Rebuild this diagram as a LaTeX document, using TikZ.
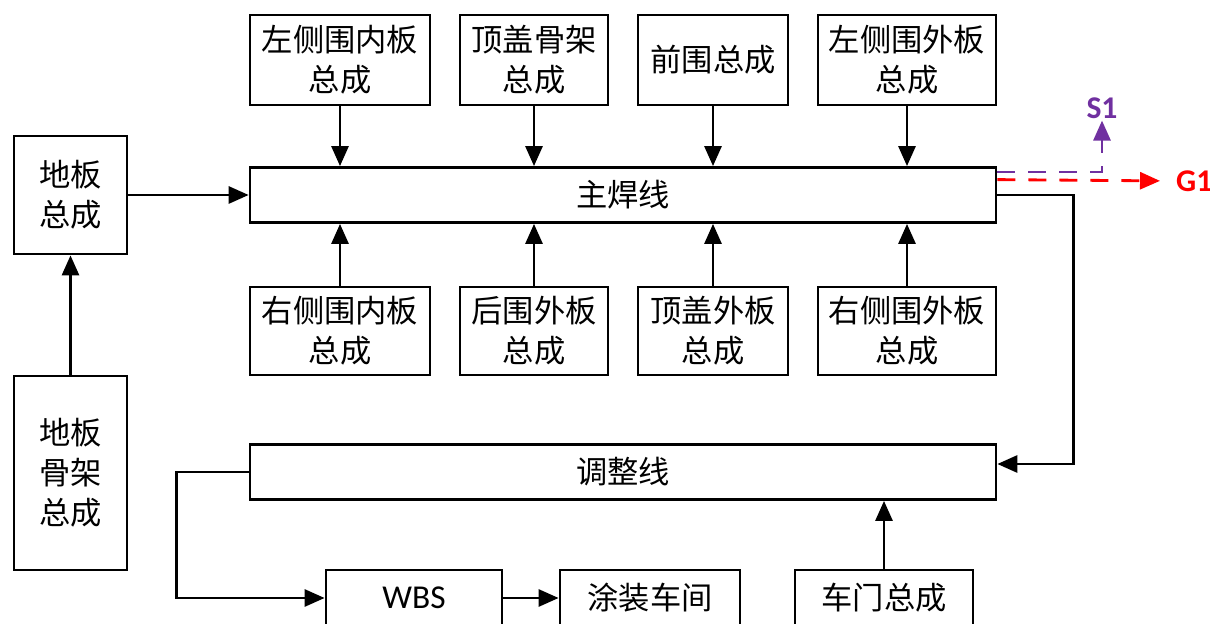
\documentclass[tikz,border=0pt]{standalone}
\usepackage{fontspec}
\setmainfont{Noto Sans CJK SC}
\newfontfamily\lat{Carlito}
\usetikzlibrary{arrows.meta,positioning}

\tikzset{
  blk/.style={draw, line width=1.6pt, align=center, inner sep=0pt,
    font=\fontsize{17.8}{22.8}\selectfont},
  arr/.style={line width=1.6pt, -{Triangle[length=0.4cm,width=0.34cm]}},
  sig/.style={line width=1.6pt, dash pattern=on 0.36cm off 0.26cm,
    -{Triangle[length=0.4cm,width=0.34cm]}},
  tag/.style={font=\lat\bfseries\fontsize{18}{20}\selectfont, inner sep=1pt},
}
\definecolor{sone}{HTML}{7030A0}
\definecolor{gone}{HTML}{FF0000}

\begin{document}
\begin{tikzpicture}[x=0.02cm, y=-0.02cm]
    \useasboundingbox (0,0) rectangle (1210,624);

    % upper parts
    \node[blk, minimum width=3.6cm, minimum height=1.8cm] (lnb) at (340,60) {左侧围内板\\总成};
    \node[blk, minimum width=2.96cm, minimum height=1.8cm] (tgj) at (534,60) {顶盖骨架\\总成};
    \node[blk, minimum width=3cm, minimum height=1.8cm] (qw) at (713,60) {前围总成};
    \node[blk, minimum width=3.56cm, minimum height=1.8cm] (lwb) at (907,60) {左侧围外板\\总成};

    % main line
    \node[blk, minimum width=14.92cm, minimum height=1.1cm] (zhx) at (623,195) {主焊线};

    % lower parts
    \node[blk, minimum width=3.6cm, minimum height=1.76cm] (rnb) at (340,331) {右侧围内板\\总成};
    \node[blk, minimum width=2.96cm, minimum height=1.76cm] (hw) at (534,331) {后围外板\\总成};
    \node[blk, minimum width=3cm, minimum height=1.76cm] (tgw) at (713,331) {顶盖外板\\总成};
    \node[blk, minimum width=3.56cm, minimum height=1.76cm] (rwb) at (907,331) {右侧围外板\\总成};

    % floor
    \node[blk, minimum width=2.26cm, minimum height=2.36cm] (db) at (70.5,195) {地板\\总成};
    \node[blk, minimum width=2.26cm, minimum height=3.88cm] (dgj) at (70.5,473) {地板\\骨架\\总成};

    % adjust line and downstream
    \node[blk, minimum width=14.92cm, minimum height=1.1cm] (tzx) at (623,472) {调整线};
    \node[blk, minimum width=3.52cm, minimum height=1.12cm] (wbs) at (414,598) {\lat\fontsize{19}{22}\selectfont WBS};
    \node[blk, minimum width=3.6cm, minimum height=1.12cm] (tz) at (650,598) {涂装车间};
    \node[blk, minimum width=3.56cm, minimum height=1.12cm] (cm) at (884,598) {车门总成};

    % signals
    \node[tag, text=sone] (s1) at (1102,108) {S1};
    \node[tag, text=gone, anchor=west] (g1) at (1174,181) {G1};

    \draw[arr] (lnb.south) -- (lnb.south |- zhx.north);
    \draw[arr] (tgj.south) -- (tgj.south |- zhx.north);
    \draw[arr] (qw.south) -- (qw.south |- zhx.north);
    \draw[arr] (lwb.south) -- (lwb.south |- zhx.north);

    \draw[arr] (rnb.north) -- (rnb.north |- zhx.south);
    \draw[arr] (hw.north) -- (hw.north |- zhx.south);
    \draw[arr] (tgw.north) -- (tgw.north |- zhx.south);
    \draw[arr] (rwb.north) -- (rwb.north |- zhx.south);

    \draw[arr] (db.east) -- (zhx.west);
    \draw[arr] (dgj.north) -- (db.south);

    \draw[arr] (zhx.east) -- ++(76,0) |- ([yshift=0.16cm]tzx.east);
    \draw[arr] (tzx.west) -- ++(-72,0) |- (wbs.west);
    \draw[arr] (wbs.east) -- (tz.west);
    \draw[arr] (cm.north) -- (cm.north |- tzx.south);

    \draw[sig, sone] ([yshift=-0.12cm]zhx.north east) -| (s1.south);
    \draw[sig, gone, shorten >=0.28cm] ([yshift=-0.27cm]zhx.north east) -- (g1.west |- 0,181);
  \end{tikzpicture}
\end{document}
